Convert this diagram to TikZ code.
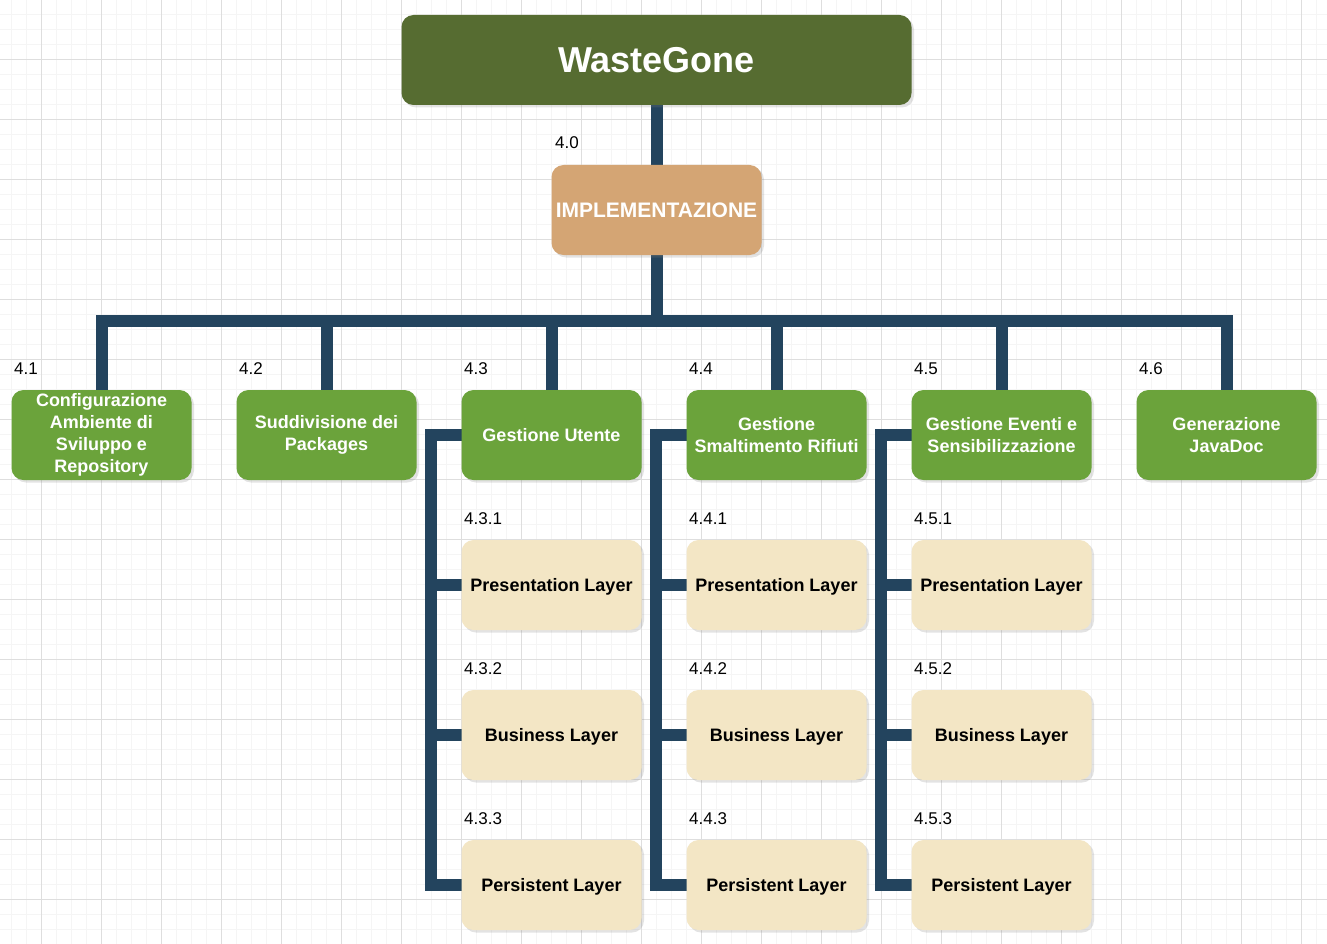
\documentclass[tikz,border=0pt]{standalone}
\usepackage{fontspec}
\setmainfont{Liberation Sans}
\usepackage{tikz}
\usetikzlibrary{positioning, shadows, backgrounds}
\definecolor{titleGreen}{RGB}{86,108,49}
\definecolor{phaseTan}{RGB}{212,165,116}
\definecolor{taskGreen}{RGB}{107,163,59}
\definecolor{layerCream}{RGB}{243,230,197}
\definecolor{linkBlue}{RGB}{35,68,94}
\definecolor{gridMinor}{RGB}{245,245,245}
\definecolor{gridMajor}{RGB}{222,222,222}
\tikzstyle{box}=[rectangle, rounded corners=12pt, minimum width=180pt,
  minimum height=90pt, inner sep=2pt, outer sep=0pt, align=center,
  drop shadow={opacity=0.22, shadow xshift=2.5pt, shadow yshift=-2.5pt}]
\tikzstyle{titleBox}=[box, fill=titleGreen, text=white, minimum width=510pt,
  font=\fontsize{36}{43}\selectfont\bfseries]
\tikzstyle{phaseBox}=[box, fill=phaseTan, text=white, minimum width=210pt,
  font=\fontsize{21}{25}\selectfont\bfseries]
\tikzstyle{taskBox}=[box, fill=taskGreen, text=white,
  font=\fontsize{18}{22}\selectfont\bfseries]
\tikzstyle{layerBox}=[box, fill=layerCream, text=black, text height=13pt, text depth=0pt,
  font=\fontsize{18}{22}\selectfont\bfseries]
\tikzstyle{wbsNum}=[anchor=base west, inner sep=0pt, font=\fontsize{17}{20}\selectfont]
\tikzstyle{link}=[line width=12pt, draw=linkBlue]
\tikzstyle{minorLine}=[draw=gridMinor, line width=1pt]
\tikzstyle{majorLine}=[draw=gridMajor, line width=1pt]

\begin{document}
\begin{tikzpicture}[x=1pt, y=-1pt, node distance=60pt and 45pt]
      \useasboundingbox (0,0) rectangle (1327,944);

      \node[titleBox] (title) at (656.5,60) {WasteGone};
      \node[phaseBox, below=60pt of title] (impl) {IMPLEMENTAZIONE};

      \node[taskBox] (c41) at (101.5,435) {Configurazione\\Ambiente di\\Sviluppo e\\Repository};
      \node[taskBox, right=of c41] (c42) {Suddivisione dei\\Packages};
      \node[taskBox, right=of c42] (c43) {Gestione Utente};
      \node[taskBox, right=of c43] (c44) {Gestione\\Smaltimento Rifiuti};
      \node[taskBox, right=of c44] (c45) {Gestione Eventi e\\Sensibilizzazione};
      \node[taskBox, right=of c45] (c46) {Generazione\\JavaDoc};

      \node[layerBox, below=of c43] (c431) {Presentation Layer};
      \node[layerBox, below=of c431] (c432) {Business Layer};
      \node[layerBox, below=of c432] (c433) {Persistent Layer};
      \node[layerBox, below=of c44] (c441) {Presentation Layer};
      \node[layerBox, below=of c441] (c442) {Business Layer};
      \node[layerBox, below=of c442] (c443) {Persistent Layer};
      \node[layerBox, below=of c45] (c451) {Presentation Layer};
      \node[layerBox, below=of c451] (c452) {Business Layer};
      \node[layerBox, below=of c452] (c453) {Persistent Layer};

      % wbs numbers
      \node[wbsNum] at ([shift={(3.5,-16)}]impl.north west) {4.0};
      \foreach \n in {1,...,6}
        \node[wbsNum] at ([shift={(2.5,-16)}]c4\n.north west) {4.\n};
      \foreach \g in {3,4,5}
        \foreach \k in {1,2,3}
          \node[wbsNum] at ([shift={(2.5,-16)}]c4\g\k.north west) {4.\g.\k};

      \begin{scope}[on background layer]
        % grid
        \fill[white] (0,0) rectangle (1327,944);
        \foreach \gx in {11.3,26.3,...,1327} \draw[minorLine] (\gx,0) -- (\gx,944);
        \foreach \gy in {14.3,29.3,...,944} \draw[minorLine] (0,\gy) -- (1327,\gy);
        \foreach \gx in {41.3,101.3,...,1327} \draw[majorLine] (\gx,0) -- (\gx,944);
        \foreach \gy in {59.3,119.3,...,944} \draw[majorLine] (0,\gy) -- (1327,\gy);

        % connectors
        \draw[link] (title) -- (impl);
        \path (impl.south) ++(0,66) coordinate (bus);
        \foreach \t in {c41,c42,c43,c44,c45,c46}
          \draw[link] (impl.south) -- (bus) -| (\t.north);
        \foreach \g in {c43,c44,c45}
          \foreach \k in {1,2,3}
            \draw[link] (\g.west) -- ++(-31,0) |- (\g\k.west);
      \end{scope}
    \end{tikzpicture}
\end{document}
